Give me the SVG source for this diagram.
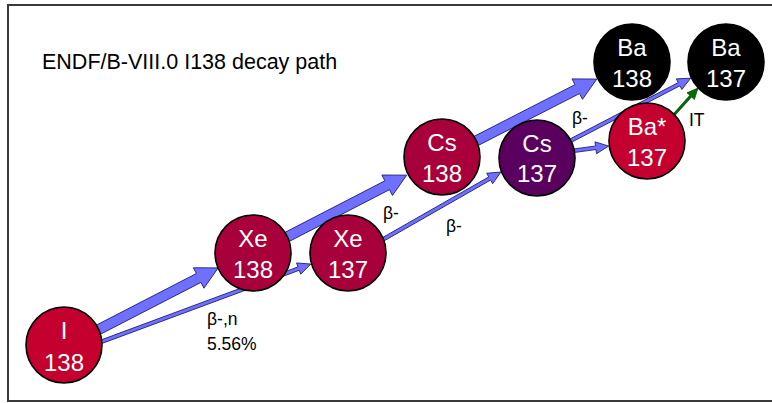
<svg xmlns="http://www.w3.org/2000/svg" width="772" height="403" viewBox="0 0 772 403">
<style>
.bg{fill:#fff}
.frame{fill:none;stroke:#3a3a3a;stroke-width:2}
.title{font-family:"Liberation Sans",Arial,sans-serif;font-size:21.5px;fill:#000}
.lbl{font-family:"Liberation Sans",Arial,sans-serif;font-size:17.5px;fill:#000}
.nt{font-family:"Liberation Sans",Arial,sans-serif;font-size:24px;fill:#fff;text-anchor:middle}
.node circle{stroke:#000;stroke-width:1.6}
.red{fill:#A8003A}
.red2{fill:#C4002E}
.purple{fill:#5A005E}
.black{fill:#000}
.arr{fill:#7070FF;stroke:#1c1c70;stroke-width:0.8;stroke-linejoin:miter}
.garr{fill:#007000;stroke:#003000;stroke-width:0.6}
</style>
<rect class="bg" x="0" y="0" width="772" height="403"/>
<path class="frame" d="M772,5 H8 V401 H772"/>
<text class="title" x="42" y="69">ENDF/B-VIII.0 I138 decay path</text>

<g id="connectors">
  <path class="arr" transform="translate(92,333) rotate(-27.29)" d="M0,-5 H120 V-11.5 L142,0 L120,11.5 V5 H0 Z"/>
  <path class="arr" transform="translate(285,238) rotate(-27.31)" d="M0,-5 H115 V-11.5 L137,0 L115,11.5 V5 H0 Z"/>
  <path class="arr" transform="translate(474,142) rotate(-27.12)" d="M0,-5 H116 V-11.5 L138,0 L116,11.5 V5 H0 Z"/>
  <path class="arr" transform="translate(98,343) rotate(-20.35)" d="M0,-1.8 H214 V-6 L227,0 L214,6 V1.8 H0 Z"/>
  <path class="arr" transform="translate(382,240) rotate(-29.74)" d="M0,-1.8 H124 V-6 L137,0 L124,6 V1.8 H0 Z"/>
  <path class="arr" transform="translate(572,151) rotate(-7.7)" d="M0,-1.8 H24 V-6 L37,0 L24,6 V1.8 H0 Z"/>
  <path class="arr" transform="translate(570,141) rotate(-27.5)" d="M0,-1.8 H123 V-6 L136,0 L123,6 V1.8 H0 Z"/>
  <path class="garr" transform="translate(672,117) rotate(-48.1)" d="M0,-1.2 H28 V-5 L39,0 L28,5 V1.2 H0 Z"/>
</g>

<g id="labels">
  <text class="lbl" x="207" y="325">β-,n</text>
  <text class="lbl" x="207" y="350">5.56%</text>
  <text class="lbl" x="383" y="219">β-</text>
  <text class="lbl" x="446" y="232">β-</text>
  <text class="lbl" x="572" y="124">β-</text>
  <text class="lbl" x="689" y="126">IT</text>
</g>

<g id="I138" class="node">
  <circle class="red2" cx="64" cy="345" r="38"/>
  <text class="nt" x="64" y="339">I</text>
  <text class="nt" x="64" y="371">138</text>
</g>
<g id="Xe138" class="node">
  <circle class="red" cx="253" cy="253" r="38"/>
  <text class="nt" x="253" y="247">Xe</text>
  <text class="nt" x="253" y="278">138</text>
</g>
<g id="Xe137" class="node">
  <circle class="red" cx="348" cy="253" r="38"/>
  <text class="nt" x="348" y="247">Xe</text>
  <text class="nt" x="348" y="278">137</text>
</g>
<g id="Cs138" class="node">
  <circle class="red" cx="442" cy="157" r="38"/>
  <text class="nt" x="442" y="151">Cs</text>
  <text class="nt" x="442" y="182">138</text>
</g>
<g id="Cs137" class="node">
  <circle class="purple" cx="537" cy="158" r="38"/>
  <text class="nt" x="537" y="152">Cs</text>
  <text class="nt" x="537" y="182">137</text>
</g>
<g id="BaStar137" class="node">
  <circle class="red2" cx="647" cy="141" r="38"/>
  <text class="nt" x="647" y="135">Ba*</text>
  <text class="nt" x="647" y="166">137</text>
</g>
<g id="Ba138" class="node">
  <circle class="black" cx="632" cy="62" r="38"/>
  <text class="nt" x="632" y="56">Ba</text>
  <text class="nt" x="632" y="87">138</text>
</g>
<g id="Ba137" class="node">
  <circle class="black" cx="726" cy="62" r="38"/>
  <text class="nt" x="726" y="56">Ba</text>
  <text class="nt" x="726" y="87">137</text>
</g>
</svg>
